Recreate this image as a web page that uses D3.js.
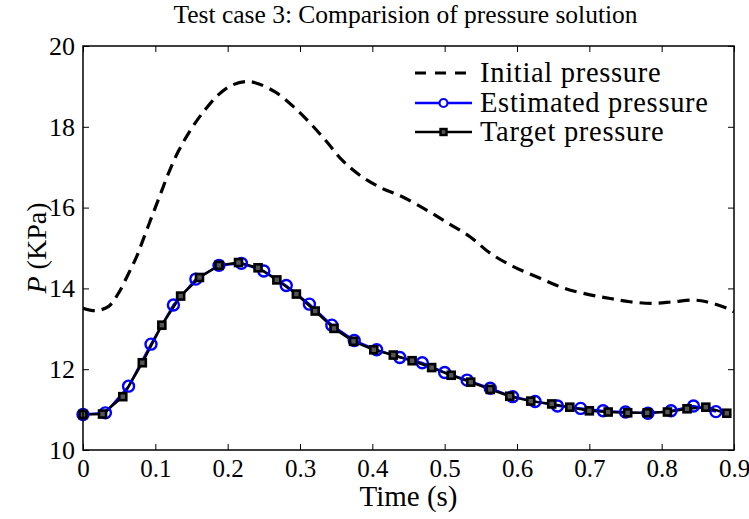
<!DOCTYPE html>
<html>
<head>
<meta charset="utf-8">
<script src="https://cdn.jsdelivr.net/npm/d3@7"></script>
<style>
  html, body { margin: 0; padding: 0; background: #fff; }
  svg { display: block; }
  text { font-family: "Liberation Serif", "Times New Roman", serif; fill: #000; }
</style>
</head>
<body>
<div id="chart"></div>
<script>
// ---- data ----
const titleText = "Test case 3: Comparision of pressure solution";
const xTicks = [0, 0.1, 0.2, 0.3, 0.4, 0.5, 0.6, 0.7, 0.8, 0.9];
const yTicks = [10, 12, 14, 16, 18, 20];
const seriesNames = ["Initial pressure", "Estimated pressure", "Target pressure"];

const initialT = [0, 0.017, 0.035, 0.049, 0.063, 0.074, 0.083, 0.095, 0.107, 0.118, 0.132, 0.148, 0.166, 0.187, 0.206, 0.226, 0.240, 0.265, 0.291, 0.314, 0.337, 0.358, 0.385, 0.413, 0.44, 0.475, 0.505, 0.535, 0.563, 0.595, 0.632, 0.666, 0.701, 0.729, 0.756, 0.788, 0.816, 0.844, 0.862, 0.890, 0.9];
const initialP = [13.51, 13.45, 13.55, 13.88, 14.37, 14.78, 15.20, 15.77, 16.33, 16.84, 17.40, 17.90, 18.36, 18.79, 19.03, 19.12, 19.08, 18.87, 18.50, 18.09, 17.63, 17.18, 16.77, 16.48, 16.28, 15.94, 15.61, 15.28, 14.87, 14.54, 14.25, 14.00, 13.84, 13.75, 13.67, 13.63, 13.67, 13.71, 13.67, 13.51, 13.42];

const estimatedT = [0, 0.031, 0.063, 0.094, 0.125, 0.156, 0.188, 0.219, 0.250, 0.281, 0.313, 0.344, 0.375, 0.406, 0.438, 0.469, 0.500, 0.531, 0.563, 0.594, 0.625, 0.656, 0.688, 0.719, 0.750, 0.781, 0.813, 0.844, 0.875];
const estimatedP = [10.88, 10.92, 11.58, 12.62, 13.59, 14.23, 14.57, 14.62, 14.43, 14.07, 13.61, 13.09, 12.71, 12.48, 12.29, 12.16, 11.92, 11.73, 11.53, 11.32, 11.20, 11.09, 11.03, 10.97, 10.94, 10.91, 10.97, 11.09, 10.95];

const targetT = [0, 0.027, 0.055, 0.082, 0.109, 0.135, 0.161, 0.188, 0.215, 0.242, 0.268, 0.295, 0.321, 0.347, 0.374, 0.402, 0.429, 0.455, 0.482, 0.509, 0.536, 0.563, 0.590, 0.619, 0.648, 0.673, 0.700, 0.726, 0.753, 0.780, 0.808, 0.835, 0.861, 0.890];
const targetP = [10.88, 10.89, 11.32, 12.16, 13.09, 13.81, 14.27, 14.57, 14.64, 14.51, 14.21, 13.86, 13.44, 13.01, 12.69, 12.48, 12.35, 12.21, 12.04, 11.85, 11.68, 11.50, 11.33, 11.21, 11.14, 11.06, 10.97, 10.94, 10.92, 10.92, 10.94, 11.02, 11.06, 10.91];

// ---- layout ----
const W = 749, H = 519;
const m = { left: 83, right: 749 - 734, top: 46, bottom: 519 - 450 };
const iw = W - m.left - m.right, ih = H - m.top - m.bottom;

const svg = d3.select("#chart").append("svg").attr("width", W).attr("height", H);
const g = svg.append("g").attr("transform", `translate(${m.left},${m.top})`);

const x = d3.scaleLinear().domain([0, 0.9]).range([0, iw]);
const y = d3.scaleLinear().domain([10, 20]).range([ih, 0]);

const zip = (a, b) => a.map((t, i) => [t, b[i]]);
const initial = zip(initialT, initialP);
const estimated = zip(estimatedT, estimatedP);
const target = zip(targetT, targetP);

svg.append("defs").append("clipPath").attr("id", "clip")
  .append("rect").attr("x", 0).attr("y", 0).attr("width", iw).attr("height", ih);

const plot = g.append("g").attr("clip-path", "url(#clip)");

const lineSmooth = d3.line().x(d => x(d[0])).y(d => y(d[1])).curve(d3.curveCatmullRom.alpha(0.5));
const lineLin = d3.line().x(d => x(d[0])).y(d => y(d[1]));

plot.append("path").datum(initial).attr("d", lineSmooth)
  .attr("fill", "none").attr("stroke", "#000").attr("stroke-width", 3.2)
  .attr("stroke-dasharray", "12,7");

plot.append("path").datum(estimated).attr("d", lineLin)
  .attr("fill", "none").attr("stroke", "#0000ff").attr("stroke-width", 2.2);

g.append("g").selectAll("circle").data(estimated).join("circle")
  .attr("cx", d => x(d[0])).attr("cy", d => y(d[1])).attr("r", 5.5)
  .attr("fill", "none").attr("stroke", "#0000ff").attr("stroke-width", 2.4);

plot.append("path").datum(target).attr("d", lineLin)
  .attr("fill", "none").attr("stroke", "#000").attr("stroke-width", 2.5);

g.append("g").selectAll("rect").data(target).join("rect")
  .attr("x", d => x(d[0]) - 3.5).attr("y", d => y(d[1]) - 3.5)
  .attr("width", 7).attr("height", 7)
  .attr("fill", "#555").attr("stroke", "#000").attr("stroke-width", 2.6);

// ---- axes (box with inward ticks) ----
const tickLen = 6;
const axStyle = sel => {
  sel.select(".domain").remove();
  sel.selectAll(".tick line").attr("stroke", "#000").attr("stroke-width", 1);
};

const xb = g.append("g").attr("transform", `translate(0,${ih})`)
  .call(d3.axisBottom(x).tickValues(xTicks).tickSize(-tickLen).tickPadding(9).tickFormat(d => d === 0 ? "0" : d3.format(".1f")(d)));
axStyle(xb);
xb.selectAll(".tick text").attr("font-size", 25).attr("font-family", "Liberation Serif").attr("fill", "#000");

const xt = g.append("g").call(d3.axisTop(x).tickValues(xTicks).tickSize(-tickLen).tickFormat(""));
axStyle(xt);

const yl = g.append("g")
  .call(d3.axisLeft(y).tickValues(yTicks).tickSize(-tickLen).tickPadding(8).tickFormat(d3.format("d")));
axStyle(yl);
yl.selectAll(".tick text").attr("font-size", 26).attr("font-family", "Liberation Serif").attr("fill", "#000");

const yr = g.append("g").attr("transform", `translate(${iw},0)`)
  .call(d3.axisRight(y).tickValues(yTicks).tickSize(-tickLen).tickFormat(""));
axStyle(yr);

g.append("rect").attr("x", 0).attr("y", 0).attr("width", iw).attr("height", ih)
  .attr("fill", "none").attr("stroke", "#000").attr("stroke-width", 1.5);

// ---- labels ----
svg.append("text").attr("x", m.left + iw / 2 - 3).attr("y", 23)
  .attr("text-anchor", "middle").attr("font-size", 25.5).text(titleText);

svg.append("text").attr("x", m.left + iw / 2).attr("y", 506)
  .attr("text-anchor", "middle").attr("font-size", 29).text("Time (s)");

const yLab = svg.append("text").attr("transform", `translate(46,${m.top + ih / 2}) rotate(-90)`)
  .attr("text-anchor", "middle").attr("font-size", 28);
yLab.append("tspan").attr("font-style", "italic").text("P");
yLab.append("tspan").text(" (KPa)");

// ---- legend ----
const lg = svg.append("g");
const lx0 = 415, lx1 = 472, ly = [73, 103, 132];
lg.append("line").attr("x1", lx0).attr("x2", lx1).attr("y1", ly[0]).attr("y2", ly[0])
  .attr("stroke", "#000").attr("stroke-width", 3.2).attr("stroke-dasharray", "11,9");
lg.append("line").attr("x1", lx0).attr("x2", lx1).attr("y1", ly[1]).attr("y2", ly[1])
  .attr("stroke", "#0000ff").attr("stroke-width", 2.4);
lg.append("circle").attr("cx", (lx0 + lx1) / 2).attr("cy", ly[1]).attr("r", 4)
  .attr("fill", "#fff").attr("stroke", "#0000ff").attr("stroke-width", 2.2);
lg.append("line").attr("x1", lx0).attr("x2", lx1).attr("y1", ly[2]).attr("y2", ly[2])
  .attr("stroke", "#000").attr("stroke-width", 2.5);
lg.append("rect").attr("x", (lx0 + lx1) / 2 - 3).attr("y", ly[2] - 3).attr("width", 6).attr("height", 6)
  .attr("fill", "#555").attr("stroke", "#000").attr("stroke-width", 2.4);

seriesNames.forEach((n, i) => {
  lg.append("text").attr("x", 480).attr("y", ly[i]).attr("dy", "0.33em")
    .attr("font-size", 28.5).attr("letter-spacing", 0.7).text(n);
});
</script>
</body>
</html>
